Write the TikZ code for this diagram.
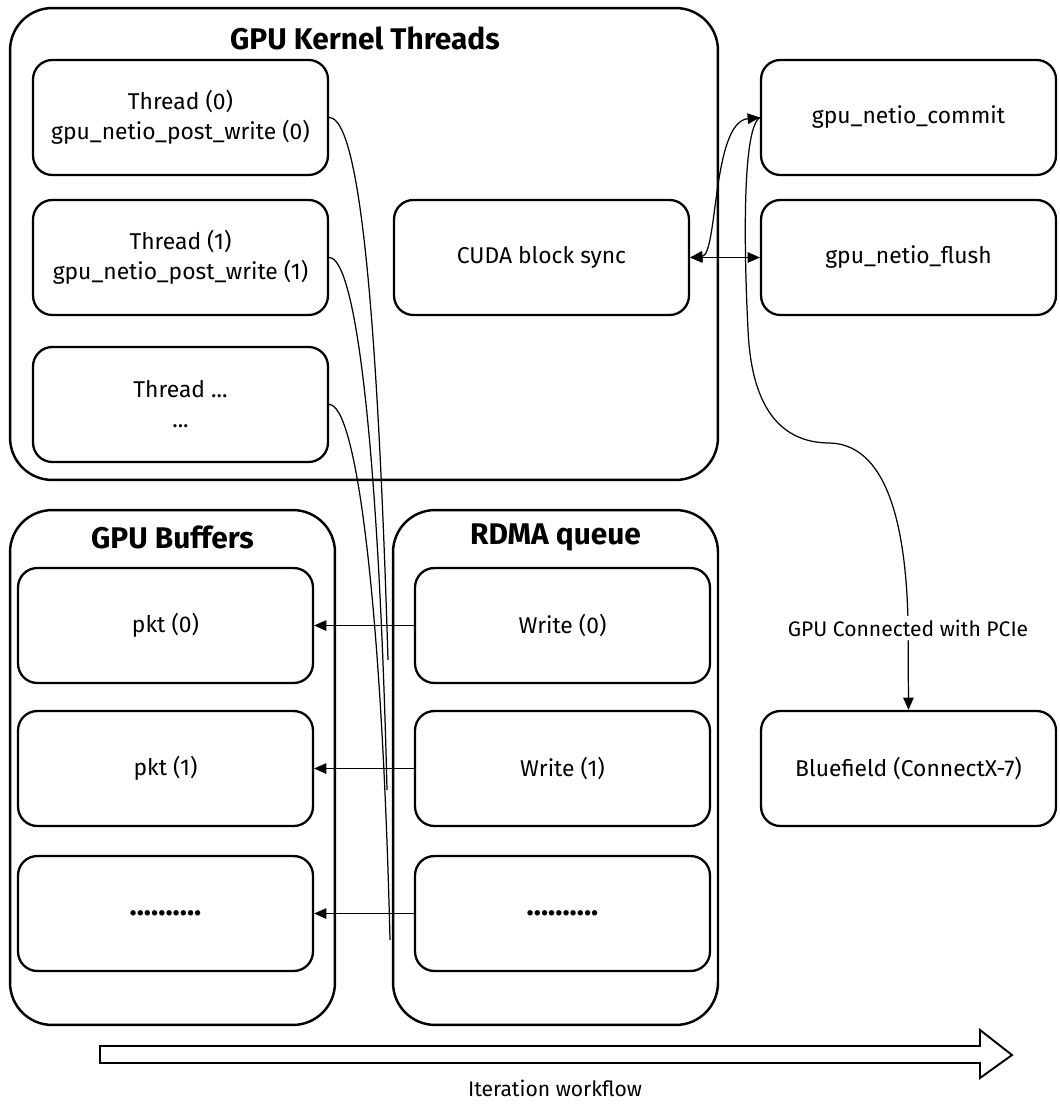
\documentclass[tikz,border=0pt]{standalone}
\usepackage{fontspec}
\setmainfont{Fira Sans}
\usetikzlibrary{arrows.meta}
\begin{document}
\begin{tikzpicture}[x=0.02cm,y=-0.02cm,
  frame/.style={draw, line width=1.4pt, rounded corners=24pt, inner sep=0pt},
  card/.style={draw, line width=1.3pt, rounded corners=11pt, minimum width=5.9cm,
    minimum height=2.3cm, align=center, font=\fontsize{13}{17}\selectfont},
  ttl/.style={font=\fontsize{17}{20}\selectfont\bfseries},
  link/.style={line width=0.7pt},
  tip/.style={-{Triangle[length=7pt,width=6pt]}},
  dtip/.style={{Triangle[length=7pt,width=6pt]}-{Triangle[length=7pt,width=6pt]}},
  dots/.style={font=\fontsize{17}{20}\selectfont\bfseries}
]
\useasboundingbox (0,0) rectangle (1059,1104);

% containers
\node[frame, minimum width=14.16cm, minimum height=9.44cm] (kernel) at (364,244) {};
\node[ttl] (kernelT) at (365,38) {GPU Kernel Threads};
\node[frame, minimum width=6.5cm, minimum height=10.3cm] (bufs) at (172.5,767.5) {};
\node[ttl] (bufsT) at (172.5,537) {GPU Buffers};
\node[frame, minimum width=6.5cm, minimum height=10.3cm] (rdma) at (555.5,767.5) {};
\node[ttl] (rdmaT) at (555.5,537) {RDMA queue};

% kernel threads
\node[card] (t0) at (180.5,117.5) {Thread (0)\\gpu\_netio\_post\_write (0)};
\node[card] (t1) at (180.5,257.5) {Thread (1)\\gpu\_netio\_post\_write (1)};
\node[card] (t2) at (180.5,404.5) {Thread ...\\...};
\node[card] (sync) at (541.5,257.5) {CUDA block sync};

% host-side calls
\node[card] (commit) at (908.5,117.5) {gpu\_netio\_commit};
\node[card] (flush) at (908.5,257.5) {gpu\_netio\_flush};
\node[card] (nic) at (908.5,768.5) {Bluefield (ConnectX-7)};

% buffers and queue entries
\node[card] (p0) at (165.5,625.5) {pkt (0)};
\node[card] (p1) at (165.5,768.5) {pkt (1)};
\node[card, dots] (p2) at (165.5,913.5) {..........};
\node[card] (w0) at (562.5,625.5) {Write (0)};
\node[card] (w1) at (562.5,768.5) {Write (1)};
\node[card, dots] (w2) at (562.5,913.5) {..........};

% thread posts reaching the queue
\coordinate (e0) at (388,660);
\coordinate (e1) at (387,790);
\coordinate (e2) at (390,940);
\draw[link] (t0.east) .. controls +(32,0) and +(-10,-330) .. (e0);
\draw[link] (t1.east) .. controls +(28,0) and +(-8,-330) .. (e1);
\draw[link] (t2.east) .. controls +(28,0) and +(-8,-330) .. (e2);

% queue entries writing into buffers
\draw[link, tip] (w0.west) -- (p0.east);
\draw[link, tip] (w1.west) -- (p1.east);
\draw[link, tip] (w2.west) -- (p2.east);

% block sync with commit / flush
\draw[link, dtip] (sync.east) .. controls (718,255) and (712,122) .. (commit.west);
\draw[link, dtip] (sync.east) -- (flush.west);

% commit to the NIC over PCIe
\coordinate (bend) at (830,443);
\draw[link, tip] (commit.west) .. controls (742,128) and (744,250) .. (748,330)
  .. controls (752,420) and (790,443) .. (bend)
  .. controls (892,445) and (906,540) .. (908,620) -- (nic.north);
\node[fill=white, inner sep=2pt, font=\fontsize{12}{15}\selectfont] (pcie) at (908,628) {GPU Connected with PCIe};

% iteration direction
\draw[line width=1.1pt, line join=miter]
  (100,1046) -- (980,1046) -- (980,1030) -- (1012,1055) -- (980,1078)
  -- (980,1063) -- (100,1063) -- cycle;
\node[font=\fontsize{12}{15}\selectfont] (iter) at (555,1088) {Iteration workflow};
\end{tikzpicture}
\end{document}
